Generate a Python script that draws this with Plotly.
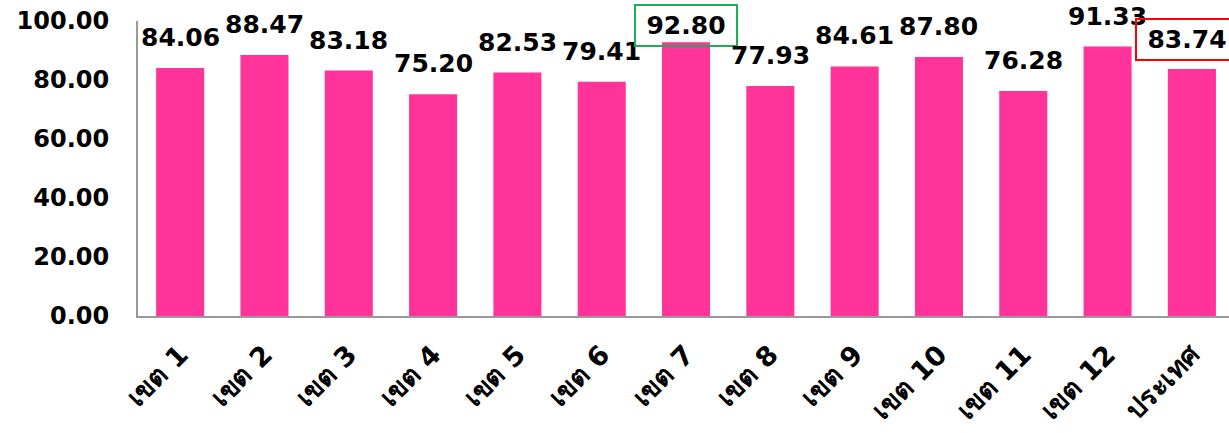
import plotly.graph_objects as go

categories = ["เขต 1", "เขต 2", "เขต 3", "เขต 4", "เขต 5", "เขต 6", "เขต 7",
              "เขต 8", "เขต 9", "เขต 10", "เขต 11", "เขต 12", "ประเทศ"]
values = [84.06, 88.47, 83.18, 75.20, 82.53, 79.41, 92.80,
          77.93, 84.61, 87.80, 76.28, 91.33, 83.74]
y_ticks = [0, 20, 40, 60, 80, 100]
highlight = {6: "#1AAF54", 12: "#FF0000"}

FONT = "DejaVu Sans"
fig = go.Figure()
fig.add_trace(go.Bar(
    x=list(range(len(categories))), y=values,
    marker=dict(color="#FF3399", line=dict(width=0)),
    cliponaxis=False,
))

for i, v in enumerate(values):
    ann = dict(x=i, y=v, text=f"<b>{v:.2f}</b>", showarrow=False,
               xref="x", yref="y", yanchor="bottom",
               font=dict(family=FONT, size=25, color="black"))
    if i in highlight:
        ann.update(bordercolor=highlight[i], borderwidth=2, borderpad=5, width=90)
        if i == 6:
            ann.update(yshift=-5)
        else:
            ann.update(yshift=8, xshift=-5)
    else:
        ann.update(yshift=14)
    fig.add_annotation(**ann)

fig.update_layout(
    width=1229, height=433,
    margin=dict(l=138, r=0, t=21, b=117),
    plot_bgcolor="white", paper_bgcolor="white",
    bargap=0.43, showlegend=False,
    font=dict(family=FONT, color="black"),
)
fig.update_xaxes(
    range=[-0.5, 12.44],
    tickmode="array", tickvals=list(range(len(categories))),
    ticktext=[f"<b>{c}</b>" for c in categories],
    tickangle=-45, tickfont=dict(family=FONT, size=27, color="black"),
    showline=True, linecolor="#999999", linewidth=2, ticks="", showgrid=False,
    ticklabelstandoff=10,
)
fig.update_yaxes(
    range=[0, 100], tickmode="array", tickvals=y_ticks,
    ticktext=[f"<b>{t:.2f}</b>" for t in y_ticks],
    tickfont=dict(family=FONT, size=24, color="black"),
    showline=True, linecolor="#999999", linewidth=2, ticks="",
    showgrid=False, zeroline=False, ticklabelstandoff=22,
)

fig.write_html("out.html", config={"displayModeBar": False},
               post_script="document.body.style.margin='0';")
